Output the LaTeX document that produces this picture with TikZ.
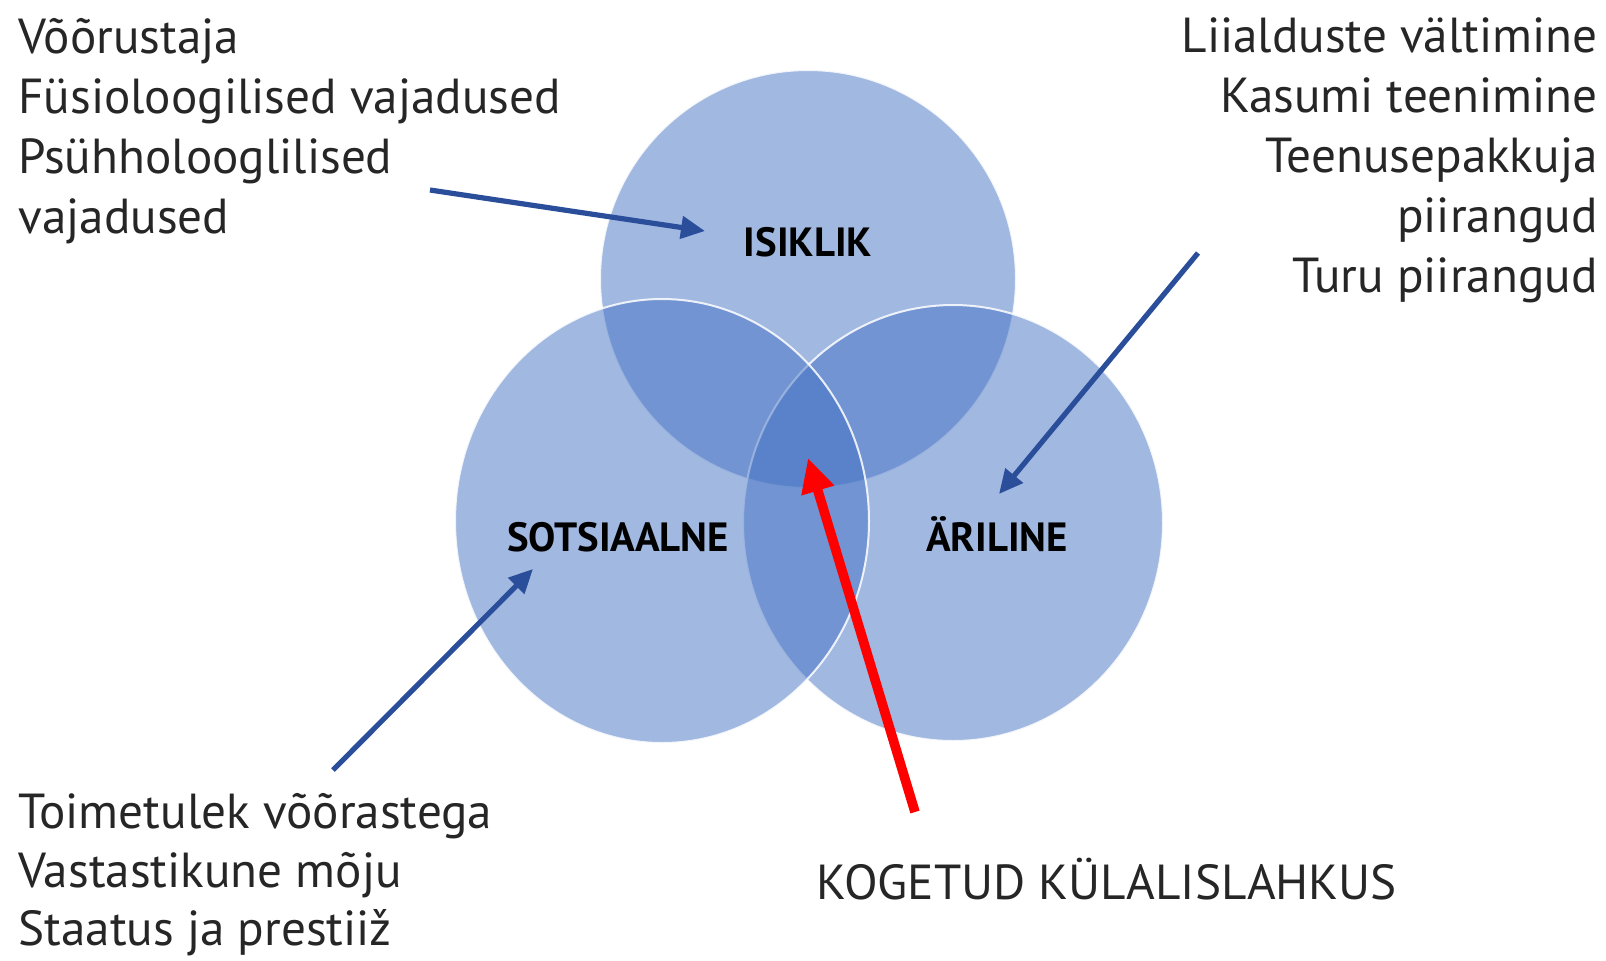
\documentclass[tikz,border=0pt]{standalone}
\usepackage{fontspec}
\setmainfont{PT Sans}
\usetikzlibrary{arrows.meta}
\definecolor{vennblue}{HTML}{4472C4}
\definecolor{arrowblue}{HTML}{2B4E9B}
\definecolor{arrowred}{HTML}{FF0000}
\definecolor{txt}{HTML}{262626}
\tikzset{
  venn/.style={fill=vennblue, fill opacity=0.5, draw=white, draw opacity=0.85, line width=1pt},
  listtxt/.style={font=\fontsize{24.6}{28}\selectfont, text=txt, inner sep=0pt},
  lbl/.style={font=\bfseries\fontsize{20.4}{24}\selectfont, text=black, inner sep=0pt, anchor=base},
  bluearrow/.style={draw=arrowblue, line width=2.6pt, -{Triangle[length=12pt,width=11pt]}},
  redarrow/.style={draw=arrowred, line width=4.8pt, -{Triangle[length=17pt,width=16pt]}}
}
\begin{document}
\begin{tikzpicture}[x=0.5pt,y=-0.5pt]
\useasboundingbox (0,0) rectangle (1606,960);
\fill[white] (0,0) rectangle (1606,960);

% Venn circles
\path[venn] (808,279) ellipse[x radius=208, y radius=209];
\path[venn] (953,523) ellipse[x radius=210, y radius=218];
\path[venn] (662,521) ellipse[x radius=207, y radius=222];

% circle labels
\node[lbl] (isiklik) at (808,256) {ISIKLIK};
\node[lbl] (sots) at (618,551) {SOTSIAALNE};
\node[lbl] (ari) at (997,551) {ÄRILINE};

% left top block
\node[listtxt, anchor=base west] (l1) at (18,53) {Võõrustaja};
\node[listtxt, anchor=base west] (l2) at (18,113) {Füsioloogilised vajadused};
\node[listtxt, anchor=base west] (l3) at (18,173) {Psühholooglilised};
\node[listtxt, anchor=base west] (l4) at (18,233) {vajadused};

% right top block
\node[listtxt, anchor=base east] (r1) at (1598,52) {Liialduste vältimine};
\node[listtxt, anchor=base east] (r2) at (1598,112) {Kasumi teenimine};
\node[listtxt, anchor=base east] (r3) at (1598,172) {Teenusepakkuja};
\node[listtxt, anchor=base east] (r4) at (1598,232) {piirangud};
\node[listtxt, anchor=base east] (r5) at (1598,292) {Turu piirangud};

% bottom left block
\node[listtxt, anchor=base west] (b1) at (18,828) {Toimetulek võõrastega};
\node[listtxt, anchor=base west] (b2) at (18,887) {Vastastikune mõju};
\node[listtxt, anchor=base west] (b3) at (18,945) {Staatus ja prestiiž};

% bottom right
\node[listtxt, anchor=base west] (kog) at (816,899) {KOGETUD KÜLALISLAHKUS};

% arrows
\coordinate (a1s) at (430,190);
\coordinate (a1e) at (705,231);
\coordinate (a2s) at (1198,253);
\coordinate (a2e) at (999,494);
\coordinate (a3s) at (333,770);
\coordinate (a3e) at (533,569);
\coordinate (a4s) at (915,812);
\coordinate (a4e) at (808,458);
\draw[bluearrow] (a1s) -- (a1e);
\draw[bluearrow] (a2s) -- (a2e);
\draw[bluearrow] (a3s) -- (a3e);
\draw[redarrow] (a4s) -- (a4e);
\end{tikzpicture}
\end{document}
